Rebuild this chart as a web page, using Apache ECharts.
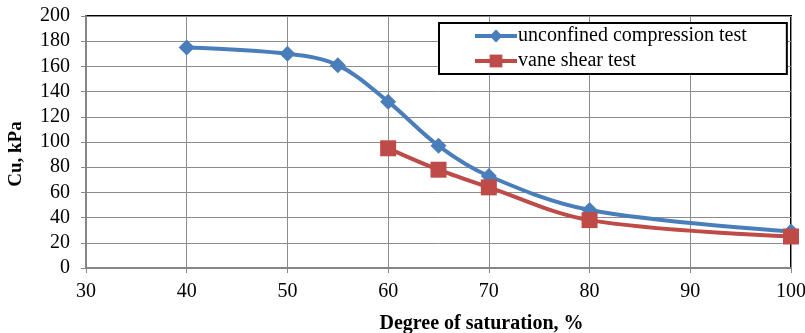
<!DOCTYPE html>
<html>
<head>
<meta charset="utf-8">
<script src="https://cdn.jsdelivr.net/npm/echarts@6/dist/echarts.min.js"></script>
<style>
  html, body { margin: 0; padding: 0; background: #fff; }
  #chart { width: 805px; height: 333px; }
</style>
</head>
<body>
<div id="chart"></div>
<script>
// Undrained shear strength vs. degree of saturation
const ucsSaturation = [40, 50, 55, 60, 65, 70, 80, 100];
const ucsStrength   = [175, 170, 161, 132, 97, 73, 46, 29];
const vaneSaturation = [60, 65, 70, 80, 100];
const vaneStrength   = [95, 78, 64, 38, 25];
const seriesNames = ['unconfined compression test', 'vane shear test'];

const pairs = (xs, ys) => xs.map((x, i) => [x, ys[i]]);
const font = 'Liberation Serif';

const chart = echarts.init(document.getElementById('chart'), null, { renderer: 'canvas' });
chart.setOption({
  animation: false,
  backgroundColor: '#fff',
  grid: {
    left: 86, right: 14, top: 16, bottom: 65,
    containLabel: false, outerBoundsMode: 'none',
    show: true, borderColor: '#000', borderWidth: 2
  },
  legend: {
    orient: 'vertical',
    left: 439, top: 23,
    width: 340,
    padding: [3, 40, 3, 34],
    itemGap: 5,
    itemWidth: 42, itemHeight: 16,
    borderColor: '#000', borderWidth: 2,
    backgroundColor: '#fff',
    lineStyle: { width: 4 },
    textStyle: { fontFamily: font, fontSize: 20, color: '#000', padding: [0, 0, 0, -4] },
    data: seriesNames
  },
  xAxis: {
    type: 'value', min: 30, max: 100, interval: 10,
    name: 'Degree of saturation, %',
    nameLocation: 'middle', nameGap: 46,
    nameTextStyle: { fontFamily: font, fontSize: 20, fontWeight: 'bold', color: '#000', padding: [0, 0, 0, 86] },
    axisLine: { show: true, onZero: false, lineStyle: { color: '#868686', width: 2 } },
    axisTick: { show: true, length: 5, lineStyle: { color: '#868686', width: 1 } },
    axisLabel: { fontFamily: font, fontSize: 20, color: '#000', margin: 14 },
    splitLine: { show: true, lineStyle: { color: '#8c8c8c', width: 1 } }
  },
  yAxis: {
    type: 'value', min: 0, max: 200, interval: 20,
    name: 'Cu, kPa',
    nameLocation: 'middle', nameGap: 60, nameRotate: 90,
    nameTextStyle: { fontFamily: font, fontSize: 19, fontWeight: 'bold', color: '#000', padding: [0, 24, 0, 0] },
    axisLine: { show: true, lineStyle: { color: '#868686', width: 2 } },
    axisTick: { show: true, length: 5, lineStyle: { color: '#868686', width: 1 } },
    axisLabel: { fontFamily: font, fontSize: 20, color: '#000', margin: 16 },
    splitLine: { show: true, lineStyle: { color: '#8c8c8c', width: 1 } }
  },
  series: [
    {
      name: seriesNames[0], type: 'line', smooth: 0.35,
      data: pairs(ucsSaturation, ucsStrength),
      symbol: 'diamond', symbolSize: 16,
      itemStyle: { color: '#4A7EBB' },
      lineStyle: { color: '#4A7EBB', width: 4 },
      z: 3
    },
    {
      name: seriesNames[1], type: 'line', smooth: 0.35,
      data: pairs(vaneSaturation, vaneStrength),
      symbol: 'rect', symbolSize: 16,
      itemStyle: { color: '#BE4B48' },
      lineStyle: { color: '#BE4B48', width: 4 },
      z: 4
    }
  ]
});
</script>
</body>
</html>
